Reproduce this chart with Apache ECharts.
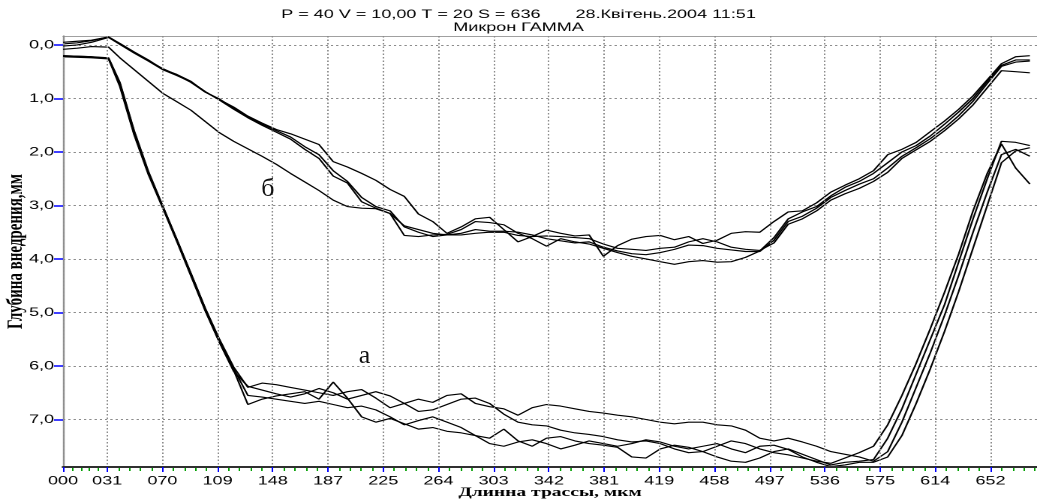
<!DOCTYPE html>
<html><head><meta charset="utf-8">
<script src="https://cdn.jsdelivr.net/npm/echarts@6/dist/echarts.min.js"></script>
<style>
html,body{margin:0;padding:0;background:#fff;overflow:hidden;}
#wrap{position:relative;width:1037px;height:502px;overflow:hidden;background:#fff;}
#chart{position:absolute;left:0;top:0;width:691px;height:502px;transform-origin:0 0;}
.note{position:absolute;display:block;font-family:'Liberation Serif','Times New Roman',serif;font-size:26px;color:#111;line-height:26px;transform:translate(-50%,-50%);white-space:nowrap;}
</style></head><body>
<div id="wrap"><div id="chart"></div><div class="note" id="noteA">а</div><div class="note" id="noteB">б</div></div>
<script>
// ---- data ----
const X = [0,10,20,32,40,50,60,70,80,90,100,110,120,130,140,150,160,170,180,190,200,210,220,230,240,250,260,270,280,290,300,310,320,330,340,350,360,370,380,390,400,410,420,430,440,450,460,470,480,490,500,510,520,530,540,550,560,570,580,590,600,610,620,630,640,650,660,670,680];

// curves "а" (deep)
const A1 = [0.21,0.22,0.23,0.25,0.75,1.66,2.40,3.02,3.65,4.30,
4.95,5.55,6.08,6.72,6.62,6.56,6.52,6.48,6.62,6.30,
6.60,6.95,7.05,6.98,7.08,7.18,7.15,7.22,7.25,7.30,
7.35,7.18,7.40,7.50,7.35,7.32,7.40,7.45,7.48,7.52,
7.70,7.72,7.55,7.48,7.52,7.60,7.70,7.78,7.80,7.72,
7.60,7.55,7.65,7.75,7.85,7.80,7.78,7.75,7.35,6.80,
6.15,5.50,4.85,4.05,3.25,2.50,1.80,1.82,1.88];
const A2 = [0.20,0.21,0.22,0.24,0.70,1.60,2.36,3.00,3.63,4.27,
4.92,5.50,6.02,6.40,6.32,6.35,6.40,6.45,6.50,6.55,
6.48,6.44,6.60,6.78,6.70,6.62,6.68,6.55,6.52,6.70,
6.76,6.80,6.92,6.78,6.72,6.75,6.80,6.85,6.88,6.92,
6.95,7.00,7.05,7.08,7.05,7.05,7.10,7.12,7.20,7.35,
7.40,7.35,7.42,7.50,7.60,7.65,7.70,7.78,7.60,7.05,
6.40,5.75,5.05,4.30,3.50,2.75,2.05,1.95,2.08];
const A3 = [0.22,0.23,0.24,0.26,0.78,1.68,2.42,3.04,3.67,4.32,
4.97,5.56,6.10,6.38,6.45,6.52,6.58,6.52,6.42,6.50,
6.62,6.55,6.48,6.56,6.70,6.85,6.82,6.72,6.62,6.60,
6.70,6.90,7.05,7.10,7.12,7.20,7.25,7.28,7.32,7.38,
7.42,7.40,7.45,7.55,7.62,7.60,7.50,7.40,7.45,7.55,
7.62,7.66,7.72,7.78,7.82,7.72,7.62,7.50,7.10,6.55,
5.95,5.30,4.62,3.90,3.10,2.40,1.85,2.30,2.60];
const A4 = [0.20,0.21,0.22,0.25,0.72,1.62,2.38,3.01,3.64,4.28,
4.93,5.53,6.05,6.55,6.58,6.62,6.66,6.70,6.66,6.72,
6.78,6.75,6.82,6.95,7.10,7.02,6.95,7.05,7.15,7.30,
7.45,7.50,7.42,7.38,7.45,7.55,7.48,7.40,7.45,7.50,
7.45,7.38,7.42,7.50,7.55,7.50,7.45,7.55,7.62,7.50,
7.48,7.56,7.70,7.80,7.88,7.85,7.80,7.80,7.70,7.30,
6.70,6.05,5.35,4.60,3.80,3.00,2.20,1.98,1.92];

// curves "б" (shallow)
const B1 = [-0.05,-0.07,-0.09,-0.15,-0.02,0.14,0.29,0.44,0.56,0.70,
0.88,1.02,1.16,1.33,1.46,1.58,1.66,1.76,1.86,2.18,
2.28,2.40,2.53,2.70,2.83,3.16,3.30,3.52,3.40,3.25,
3.22,3.45,3.68,3.58,3.46,3.52,3.57,3.55,3.95,3.75,
3.63,3.58,3.56,3.64,3.58,3.71,3.65,3.52,3.49,3.50,
3.30,3.12,3.10,2.95,2.75,2.62,2.50,2.35,2.05,1.95,
1.82,1.62,1.42,1.20,0.95,0.65,0.35,0.22,0.20];
const B2 = [0.02,0.00,-0.05,-0.14,-0.01,0.15,0.30,0.46,0.57,0.69,
0.87,1.03,1.20,1.36,1.50,1.63,1.76,1.95,2.12,2.45,
2.58,2.93,3.05,3.15,3.56,3.58,3.55,3.54,3.45,3.30,
3.32,3.36,3.52,3.62,3.76,3.62,3.68,3.72,3.80,3.88,
3.95,4.00,4.05,4.10,4.05,4.03,4.06,4.05,3.97,3.85,
3.60,3.25,3.12,3.02,2.82,2.66,2.55,2.40,2.20,2.00,
1.88,1.70,1.48,1.25,1.00,0.68,0.38,0.28,0.28];
const B3 = [0.08,0.06,0.03,0.04,0.24,0.46,0.68,0.90,1.06,1.22,
1.43,1.64,1.80,1.94,2.08,2.23,2.40,2.56,2.72,2.90,
3.02,3.05,3.06,3.15,3.38,3.45,3.52,3.55,3.55,3.52,
3.50,3.50,3.56,3.58,3.57,3.58,3.60,3.62,3.72,3.80,
3.82,3.84,3.80,3.78,3.68,3.62,3.68,3.78,3.82,3.84,
3.70,3.35,3.25,3.10,2.90,2.78,2.68,2.55,2.38,2.12,
1.96,1.80,1.60,1.38,1.12,0.80,0.48,0.50,0.52];
const B4 = [-0.02,-0.04,-0.08,-0.15,-0.03,0.13,0.28,0.45,0.55,0.68,
0.88,1.01,1.18,1.34,1.48,1.60,1.72,1.90,2.05,2.35,
2.55,2.85,3.02,3.10,3.40,3.50,3.58,3.55,3.52,3.45,
3.48,3.48,3.50,3.55,3.62,3.66,3.70,3.68,3.78,3.85,
3.90,3.92,3.88,3.82,3.74,3.75,3.80,3.83,3.86,3.86,
3.65,3.30,3.20,3.05,2.85,2.72,2.60,2.50,2.30,2.08,
1.92,1.75,1.55,1.32,1.05,0.72,0.40,0.32,0.30];

// axes
const X_TICKS = [0,31.06,69.88,108.7,147.5,186.4,225.2,264.0,302.8,341.7,380.5,419.3,458.1,497.0,535.8,574.6,613.4,652.3];
const X_LABELS = ['000','031','070','109','148','187','225','264','303','342','381','419','458','497','536','575','614','652'];
const Y_TICKS = [0,1,2,3,4,5,6,7];
const Y_LABELS = ['0,0','1,0','2,0','3,0','4,0','5,0','6,0','7,0'];
const X_MIN = 0, X_MAX = 685;
const Y_MIN = -0.168, Y_MAX = 7.888;

const TITLE = 'P = 40 V = 10,00 T = 20 S = 636       28.Квітень.2004 11:51';
const SUBTITLE = 'Микрон ГАММА';
const X_NAME = 'Длинна трассы, мкм';
const Y_NAME = 'Глубина внедрения,мм';
const NOTE_A = [212, 5.79];
const NOTE_B = [144, 2.67];

// ---- rendering ----
const SX = 1037 / 691, SY = 1;
const chartEl = document.getElementById('chart');
chartEl.style.transform = 'scale(' + SX + ',' + SY + ')';
const chart = echarts.init(chartEl, null, {renderer: 'canvas', devicePixelRatio: 2});

const minor = [];
for (let i = 0; i < X_TICKS.length - 1; i++) {
  const a = X_TICKS[i], b = X_TICKS[i + 1];
  for (let k = 1; k < 5; k++) minor.push(a + (b - a) * k / 5);
}
{
  const n = X_TICKS.length, st = (X_TICKS[n - 1] - X_TICKS[n - 2]) / 5;
  for (let v = X_TICKS[n - 1] + st; v < X_MAX; v += st) minor.push(v);
}

const seriesData = [A1, A2, A3, A4, B1, B2, B3, B4];
const series = seriesData.map((ys, i) => ({
  type: 'line',
  data: X.map((x, j) => [x, ys[j]]),
  showSymbol: false,
  symbol: 'none',
  silent: true,
  lineStyle: {color: '#000', width: 1.15},
  z: 3
}));

const font = "'Liberation Sans', Arial, sans-serif";
const gridLine = {color: '#8c8c8c', width: 1, type: [1.5, 2]};
chart.setOption({
  animation: false,
  backgroundColor: '#fff',
  title: {
    text: TITLE + '\n' + SUBTITLE,
    left: 'center', top: 3,
    textStyle: {fontFamily: font, fontSize: 12, fontWeight: 'normal', color: '#000', lineHeight: 13}
  },
  grid: {left: 42, right: 0, top: 36, bottom: 35, containLabel: false, outerBoundsMode: 'none'},
  xAxis: [
    {
      type: 'value', min: X_MIN, max: X_MAX, position: 'bottom', z: 5,
      name: X_NAME, nameLocation: 'middle', nameGap: 19, nameMoveOverlap: false,
      nameTextStyle: {fontFamily: "'Liberation Serif', serif", fontWeight: 'bold', fontSize: 13, color: '#000'},
      axisLine: {show: true, onZero: false, lineStyle: {color: '#303030', width: 2}},
      axisTick: {show: true, customValues: X_TICKS, length: 5, lineStyle: {color: '#0000ff', width: 1}},
      axisLabel: {
        show: true, customValues: X_TICKS, margin: 8,
        fontFamily: font, fontSize: 12, color: '#000',
        formatter: v => { const i = X_TICKS.findIndex(t => Math.abs(t - v) < 0.01); return i >= 0 ? X_LABELS[i] : ''; }
      },
      splitLine: {show: true, lineStyle: gridLine}
    },
    {
      type: 'value', min: X_MIN, max: X_MAX, position: 'bottom', z: 4,
      axisLine: {show: false, onZero: false},
      axisTick: {show: true, customValues: minor, length: 4, lineStyle: {color: '#00a000', width: 1}},
      axisLabel: {show: false},
      splitLine: {show: false}
    },
    {
      type: 'value', min: X_MIN, max: X_MAX, position: 'top',
      axisLine: {show: true, onZero: false, lineStyle: {color: '#a0a0a0', width: 1}},
      axisTick: {show: false}, axisLabel: {show: false}, splitLine: {show: false}
    }
  ],
  yAxis: {
    type: 'value', inverse: true, min: Y_MIN, max: Y_MAX,
    name: Y_NAME, nameLocation: 'middle', nameGap: 24, nameMoveOverlap: false,
    nameTextStyle: {fontFamily: "'Liberation Serif', serif", fontWeight: 'bold', fontSize: 15, color: '#000'},
    axisLine: {show: true, onZero: false, lineStyle: {color: '#909090', width: 1.2}},
    axisTick: {show: true, customValues: Y_TICKS, length: 6, lineStyle: {color: '#0000ff', width: 1.5}},
    axisLabel: {
      show: true, customValues: Y_TICKS, margin: 6,
      fontFamily: font, fontSize: 12, color: '#000',
      formatter: v => { const i = Y_TICKS.findIndex(t => Math.abs(t - v) < 0.001); return i >= 0 ? Y_LABELS[i] : ''; }
    },
    splitLine: {show: true, lineStyle: gridLine}
  },
  series: series
});

function placeNote(id, pt) {
  const p = chart.convertToPixel({xAxisIndex: 0, yAxisIndex: 0}, pt);
  const el = document.getElementById(id);
  el.style.left = (p[0] * SX) + 'px';
  el.style.top = (p[1] * SY) + 'px';
}
placeNote('noteA', NOTE_A);
placeNote('noteB', NOTE_B);
</script>
</body></html>
